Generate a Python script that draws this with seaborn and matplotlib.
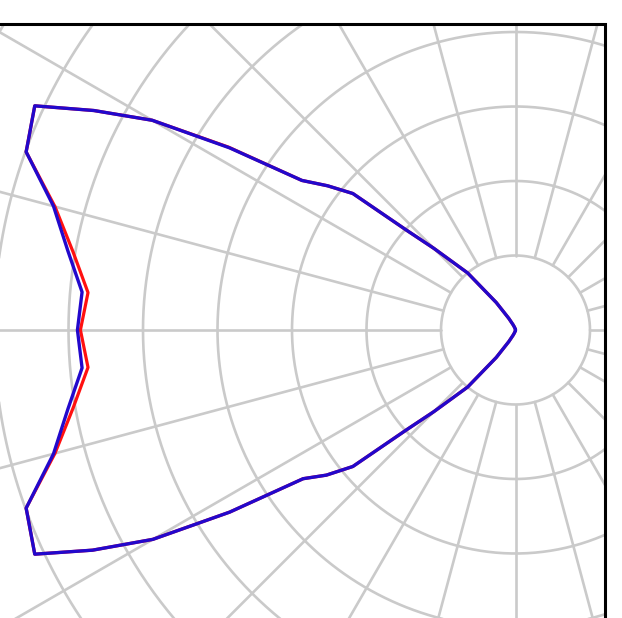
import numpy as np
import seaborn as sns
import matplotlib.pyplot as plt
from matplotlib.patches import Rectangle
from matplotlib.transforms import Bbox, TransformedBbox

# gamma angle measured from the left-pointing axis (deg), upper half
gamma = [0, 5, 10, 15, 20, 25, 27.5, 30, 32.5, 35, 37.5, 40, 42.5, 45, 50, 55, 60, 65, 70, 80, 90]
# radial values in grid units (one ring = 1)
blue_upper = [5.88, 5.84, 6.10, 6.42, 6.99, 7.12, 6.38, 5.63, 4.55, 3.50, 3.18, 2.85, 1.98, 1.55, 1.00, 0.45, 0.18, 0.08, 0.04, 0.01, 0.0]
blue_lower = [5.88, 5.84, 6.10, 6.42, 6.99, 7.12, 6.40, 5.62, 4.55, 3.48, 3.20, 2.85, 1.98, 1.55, 1.00, 0.45, 0.18, 0.08, 0.04, 0.01, 0.0]
red_upper = [5.84, 5.76, 6.03, 6.40, 6.99, 7.12, 6.38, 5.63, 4.57, 3.50, 3.18, 2.85, 1.98, 1.55, 1.00, 0.45, 0.18, 0.08, 0.04, 0.01, 0.0]
red_lower = [5.84, 5.76, 6.03, 6.40, 6.99, 7.12, 6.40, 5.62, 4.55, 3.48, 3.20, 2.85, 1.98, 1.55, 1.00, 0.45, 0.18, 0.08, 0.04, 0.01, 0.0]

rings = [1, 2, 3, 4, 5, 6, 7, 8]
spokes = list(range(0, 360, 15))


def full_curve(upper, lower):
    g = [-x for x in gamma[::-1]] + gamma[1:]
    r = lower[::-1] + upper[1:]
    theta = np.radians(180 - np.array(g))
    return theta, r


sns.set_style("white")
W, H = 622, 618
fig = plt.figure(figsize=(W / 100, H / 100), dpi=100)

# polar axes centred at pixel (515.5, 330) with 74.5 px per ring
cx, cy, unit, rmax = 515.5, 330, 74.5, 8.5
R = unit * rmax
ax = fig.add_axes([(cx - R) / W, (H - cy - R) / H, 2 * R / W, 2 * R / H], projection='polar')
ax.set_ylim(0, rmax)
ax.set_xticks([])
ax.set_yticks([])
ax.grid(False)
ax.spines['polar'].set_visible(False)

grid_kw = dict(color='#cacaca', lw=1.9, zorder=1)
tc = np.linspace(0, 2 * np.pi, 721)
for r in rings:
    ax.plot(tc, np.full_like(tc, r), **grid_kw)
for s in spokes:
    ax.plot([np.radians(s)] * 2, [1, rmax], **grid_kw)

th, rr = full_curve(red_upper, red_lower)
sns.lineplot(x=th, y=rr, ax=ax, sort=False, estimator=None, color='#ff1010', lw=2.3, zorder=3)
th, rb = full_curve(blue_upper, blue_lower)
sns.lineplot(x=th, y=rb, ax=ax, sort=False, estimator=None, color='#2208cc', lw=2.4, zorder=4)
ax.set_xlabel('')
ax.set_ylabel('')

# clip to the visible frame (top and right edges)
fx1, fy1 = 605 / W, (H - 24) / H
clip = TransformedBbox(Bbox.from_extents(-0.5, -0.5, fx1, fy1), fig.transFigure)
for ln in ax.lines:
    ln.set_clip_box(clip)

fig.add_artist(Rectangle((-0.5, -0.5), fx1 + 0.5, fy1 + 0.5, transform=fig.transFigure,
                         fill=False, edgecolor='black', lw=2.2, zorder=5))

fig.savefig('out.png', dpi=100, facecolor='white')
